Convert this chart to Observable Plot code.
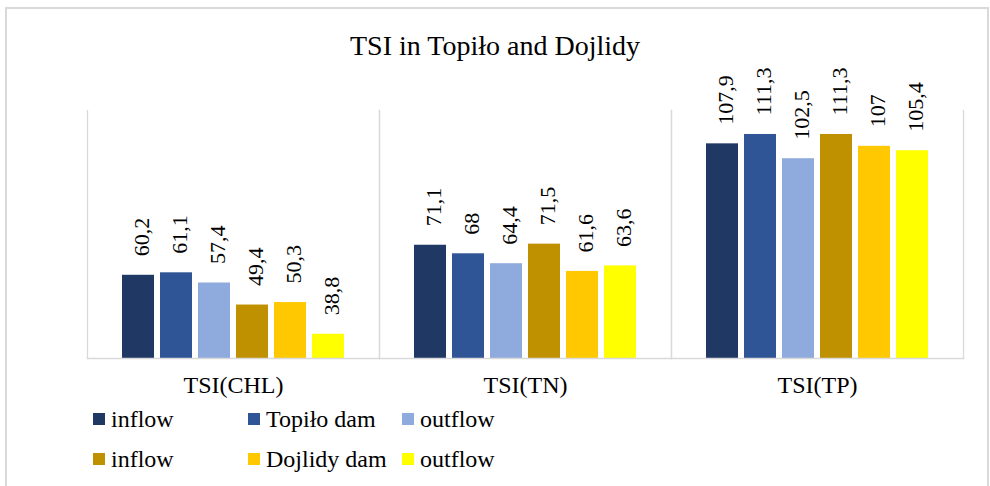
<!DOCTYPE html>
<html>
<head>
<meta charset="utf-8">
<script src="https://cdn.jsdelivr.net/npm/d3@7"></script>
<script src="https://cdn.jsdelivr.net/npm/@observablehq/plot@0.6"></script>
<style>
  html, body { margin: 0; padding: 0; background: #fff; overflow: hidden; }
  body { width: 990px; height: 486px; position: relative; font-family: "Liberation Serif", "Times New Roman", serif; color: #000; }
  #frame { position: absolute; left: 5px; top: 7px; width: 980px; height: 520px; border: 2px solid #d9d9d9; box-sizing: content-box; }
  #title { position: absolute; left: 0; width: 990px; top: 32px; text-align: center; font-size: 28px; line-height: 28px; }
  #chart { position: absolute; left: 0; top: 0; }
  .lg-sw { position: absolute; width: 12px; height: 12px; }
  .lg-tx { position: absolute; font-size: 24px; line-height: 24px; white-space: nowrap; }
</style>
</head>
<body>
<div id="frame"></div>
<div id="title">TSI in Topiło and Dojlidy</div>
<div id="chart"></div>
<div id="legend"></div>
<script>
// ---- data ----
const groups = ["TSI(CHL)", "TSI(TN)", "TSI(TP)"];
const seriesKeys = ["Topiło inflow", "Topiło dam", "Topiło outflow", "Dojlidy inflow", "Dojlidy dam", "Dojlidy outflow"];
const legendLabels = ["inflow", "Topiło dam", "outflow", "inflow", "Dojlidy dam", "outflow"];
const seriesColors = ["#1F3864", "#2F5597", "#8FAADC", "#BF9000", "#FFC800", "#FFFF00"];
const topiloInflow   = [60.2, 71.1, 107.9];
const topiloDam      = [61.1, 68.0, 111.3];
const topiloOutflow  = [57.4, 64.4, 102.5];
const dojlidyInflow  = [49.4, 71.5, 111.3];
const dojlidyDam     = [50.3, 61.6, 107.0];
const dojlidyOutflow = [38.8, 63.6, 105.4];
const yAxisRange = [30, 120];

const seriesValues = [topiloInflow, topiloDam, topiloOutflow, dojlidyInflow, dojlidyDam, dojlidyOutflow];
const data = [];
groups.forEach((g, gi) => {
  seriesKeys.forEach((s, si) => {
    data.push({group: g, series: s, value: seriesValues[si][gi]});
  });
});
const fmt = v => String(v).replace(".", ",");
const FONT = '"Liberation Serif", "Times New Roman", serif';

const chart = Plot.plot({
  width: 990,
  height: 400,
  marginLeft: 86,
  marginRight: 27,
  marginTop: 110,
  marginBottom: 42,
  style: {fontFamily: FONT, fontSize: "24px", color: "#000", background: "transparent"},
  fx: {domain: groups, paddingInner: 0, paddingOuter: 0, axis: "bottom", label: null, tickSize: 0, tickPadding: 17},
  x: {domain: seriesKeys, paddingInner: 0.158, paddingOuter: 0.865, axis: null},
  y: {domain: yAxisRange, axis: null},
  color: {domain: seriesKeys, range: seriesColors},
  marks: [
    Plot.frame({anchor: "left", stroke: "#d9d9d9", strokeWidth: 1.3}),
    Plot.frame({anchor: "right", stroke: "#d9d9d9", strokeWidth: 1.3}),
    Plot.barY(data, {fx: "group", x: "series", y1: () => yAxisRange[0], y2: "value", fill: "series"}),
    Plot.frame({anchor: "bottom", stroke: "#d9d9d9", strokeWidth: 1.5}),
    Plot.text(data, {fx: "group", x: "series", y: "value", text: d => fmt(d.value), rotate: -90,
      textAnchor: "start", lineAnchor: "middle", dy: -19, dx: 3, fontSize: 22, fill: "#000"})
  ]
});
document.getElementById("chart").appendChild(chart);

// ---- legend ----
const legend = document.getElementById("legend");
const colX = [93, 248, 402];
const rowSwatchTop = [413, 453];
seriesKeys.forEach((s, i) => {
  const r = Math.floor(i / 3), c = i % 3;
  const sw = document.createElement("div");
  sw.className = "lg-sw";
  sw.style.left = colX[c] + "px";
  sw.style.top = rowSwatchTop[r] + "px";
  sw.style.background = seriesColors[i];
  legend.appendChild(sw);
  const tx = document.createElement("div");
  tx.className = "lg-tx";
  tx.style.left = (colX[c] + 18) + "px";
  tx.style.top = (rowSwatchTop[r] - 6) + "px";
  tx.textContent = legendLabels[i];
  legend.appendChild(tx);
});
</script>
</body>
</html>
